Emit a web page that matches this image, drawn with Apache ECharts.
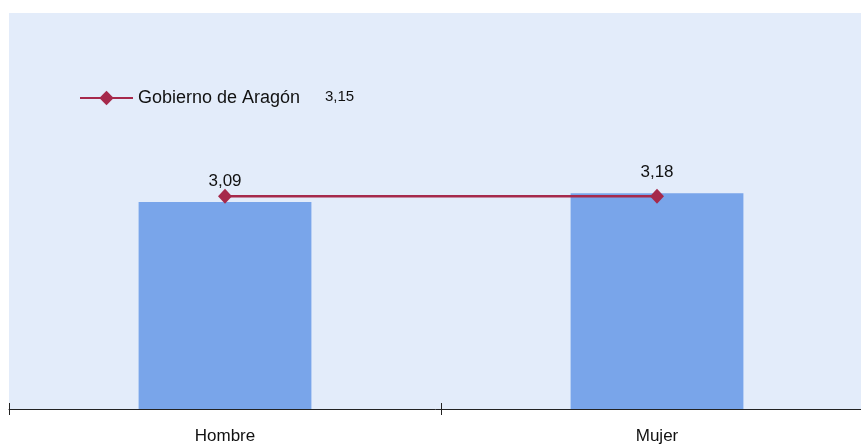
<!DOCTYPE html>
<html>
<head>
<meta charset="utf-8">
<script src="https://cdn.jsdelivr.net/npm/echarts@6/dist/echarts.min.js"></script>
<style>
  html, body { margin: 0; padding: 0; background: #ffffff; }
  #chart { width: 861px; height: 445px; }
</style>
</head>
<body>
<div id="chart"></div>
<script>
// Puntuación media por sexo frente a la media del Gobierno de Aragón
const categories = ['Hombre', 'Mujer'];
const barValues = [3.09, 3.18];
const refName = 'Gobierno de Aragón';
const refValues = [3.15, 3.15];

const fmt = v => v.toFixed(2).replace('.', ',');
const font = 'Arial, "Liberation Sans", sans-serif';

const chart = echarts.init(document.getElementById('chart'));
chart.setOption({
  animation: false,
  backgroundColor: '#ffffff',
  grid: {
    left: 9, top: 13, width: 864, height: 396,
    outerBoundsMode: 'none',
    containLabel: false,
    show: true, backgroundColor: '#e3ecfa', borderWidth: 0
  },
  legend: {
    data: [refName],
    left: 74, top: 84,
    itemWidth: 53, itemHeight: 18, itemGap: 4,
    textStyle: { fontFamily: font, fontSize: 18, color: '#111' }
  },
  xAxis: [{
    type: 'category',
    data: categories,
    boundaryGap: true,
    axisLine: { lineStyle: { color: '#222', width: 1 } },
    axisTick: { show: true, inside: false, length: 6, lineStyle: { color: '#222' } },
    axisLabel: { fontFamily: font, fontSize: 17, color: '#111', margin: 19 }
  }, {
    type: 'category',
    data: categories,
    position: 'bottom',
    axisLine: { show: false },
    axisTick: { show: true, inside: true, length: 6, lineStyle: { color: '#222' } },
    axisLabel: { show: false }
  }],
  yAxis: {
    type: 'value', min: 1, max: 5,
    show: false, splitLine: { show: false }
  },
  series: [{
    type: 'bar',
    data: barValues,
    barWidth: '40%',
    itemStyle: { color: '#79a5ea' },
    label: {
      show: true, position: 'top', distance: 12,
      formatter: p => fmt(p.value),
      fontFamily: font, fontSize: 17, color: '#111'
    }
  }, {
    type: 'line',
    name: refName,
    data: refValues,
    symbol: 'diamond',
    symbolSize: [14, 15],
    lineStyle: { color: '#a6294b', width: 2.5 },
    itemStyle: { color: '#a6294b' },
    z: 5
  }],
  graphic: [{
    type: 'text',
    left: 325, top: 89,
    style: {
      text: fmt(refValues[0]),
      font: '15px ' + font,
      fill: '#111'
    }
  }]
});
</script>
</body>
</html>
